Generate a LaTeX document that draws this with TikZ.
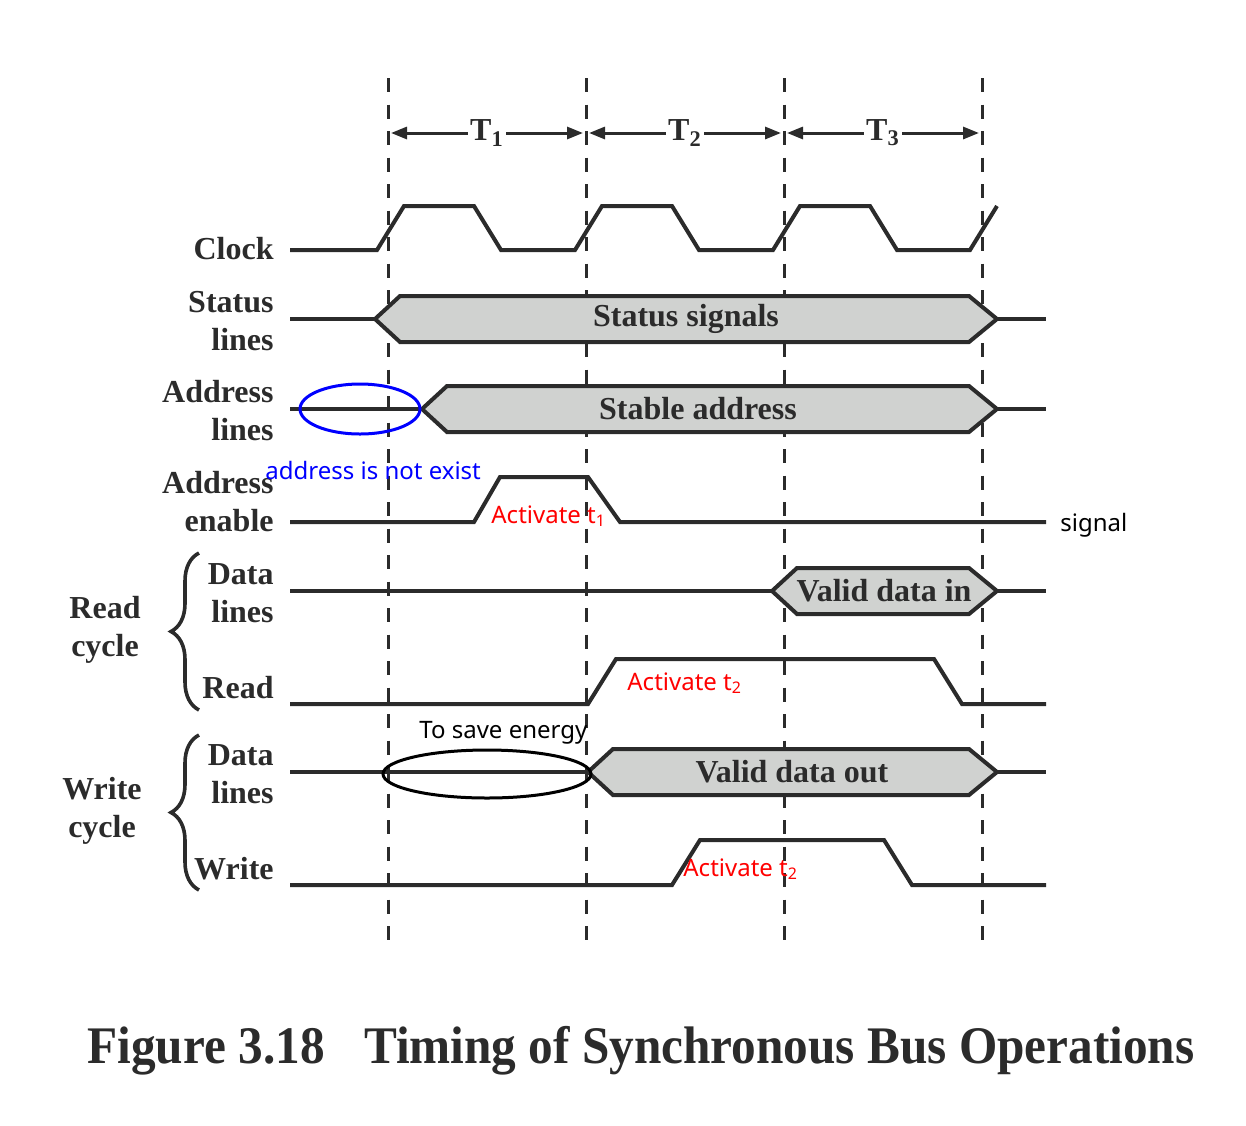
\documentclass[tikz,border=0pt]{standalone}
\usepackage{fontspec}
\setmainfont{Liberation Serif}
\newfontfamily\notefont{Noto Sans}
\usepackage{graphicx}
\usetikzlibrary{arrows.meta,decorations.pathreplacing}
\definecolor{BusGray}{HTML}{D0D2D0}
\definecolor{Ink}{HTML}{2B2B2B}
\definecolor{NoteBlue}{HTML}{0000FF}
\definecolor{NoteRed}{HTML}{FF0000}

\begin{document}
\begin{tikzpicture}[x=.5pt,y=-.5pt,
    sig/.style={line width=2pt,Ink},
    bus/.style={line width=2pt,draw=Ink,fill=BusGray},
    buslbl/.style={Ink,font=\fontsize{16}{19}\selectfont\bfseries},
    lbl/.style={Ink,align=right,anchor=east,inner sep=0pt,font=\fontsize{16}{19}\selectfont\bfseries},
    tick/.style={line width=1.5pt,Ink,dash pattern=on 7pt off 6.25pt},
    note/.style={anchor=base west,inner sep=0pt,font=\notefont\fontsize{12}{14}\selectfont}]
  \useasboundingbox (0,0) rectangle (1246,1125);
  % clock period grid
  \foreach \x in {388,586,784,982}{\draw[tick] (\x,78) -- (\x,940);}
  \foreach \i/\xa/\xb in {1/388/586,2/586/784,3/784/982}{
    \draw[line width=1.5pt,Ink,{Triangle[length=8pt,width=6pt]}-{Triangle[length=8pt,width=6pt]}]
      ({\xa+3},133) -- node[fill=white,inner sep=1pt,font=\fontsize{16}{19}\selectfont\bfseries] (t\i) {T\textsubscript{\i}} ({\xb-3},133);}
  % clock
  \draw[sig] (290,250) \foreach \k in {0,1,2}{ -- ({377+198*\k},250) -- ({404+198*\k},206)
    -- ({474+198*\k},206) -- ({501+198*\k},250)} -- (970,250) -- (997,206);
  % bus lines
  \foreach \n/\a/\b/\y/\tx/\t in {status/375/997/319/686/Status signals,addr/422/997/409/698/Stable address,
      din/772/997/591/884/Valid data in,dout/588/997/772/792/Valid data out}{
    \draw[sig] (290,\y) -- (\a,\y);
    \draw[sig] (\b,\y) -- (1046,\y);
    \filldraw[bus] (\a,\y) -- ({\a+25},{\y-23}) -- ({\b-28},{\y-23}) -- (\b,\y)
      -- ({\b-28},{\y+23}) -- ({\a+25},{\y+23}) -- cycle;
    \node[buslbl] (\n) at (\tx,\y) {\t};}
  % control signals
  \draw[sig] (290,522) -- (474,522) -- (500,477) -- (588,477) -- (620,522) -- (1046,522);
  \draw[sig] (290,704) -- (588,704) -- (616,659) -- (934,659) -- (962,704) -- (1046,704);
  \draw[sig] (290,885) -- (672,885) -- (700,840) -- (884,840) -- (912,885) -- (1046,885);
  % left labels
  \node[lbl] (clk) at (274,249) {Clock};
  \node[lbl] (stl) at (274,321) {Status\\lines};
  \node[lbl] (adl) at (274,411) {Address\\lines};
  \node[lbl] (ade) at (274,502) {Address\\enable};
  \node[lbl] (rdl) at (274,593) {Data\\lines};
  \node[lbl] (rd) at (274,688) {Read};
  \node[lbl] (wdl) at (274,774) {Data\\lines};
  \node[lbl] (wr) at (274,869) {Write};
  \draw[line width=1.8pt,Ink,decorate,decoration={brace,amplitude=14pt}] (199,710) -- (199,553);
  \draw[line width=1.8pt,Ink,decorate,decoration={brace,amplitude=14pt}] (199,890) -- (199,735);
  \node[lbl,align=center,anchor=center] (rcyc) at (105,630) {Read\\cycle};
  \node[lbl,align=center,anchor=center] (wcyc) at (102,811) {Write\\cycle};
  % notes
  \draw[NoteBlue,line width=1.5pt] (360,409) ellipse [x radius=60,y radius=25];
  \draw[line width=1.5pt] (487,774) ellipse [x radius=104,y radius=24];
  \node[note,NoteBlue] (noaddr) at (265,479) {address is not exist};
  \node[note,NoteRed] (act1) at (491,523) {Activate t\textsubscript{1}};
  \node[note] (sgn) at (1060,531) {signal};
  \node[note,NoteRed] (act2) at (627,690) {Activate t\textsubscript{2}};
  \node[note] (save) at (419,738) {To save energy};
  \node[note,NoteRed] (act3) at (683,876) {Activate t\textsubscript{2}};
  % caption
  \node[anchor=base,Ink] (cap) at (641,1063) {\resizebox{553.5pt}{\height}{\fontsize{26.4}{30}\selectfont\bfseries
    Figure 3.18\hspace{0.8em}Timing of Synchronous Bus Operations}};
\end{tikzpicture}
\end{document}
